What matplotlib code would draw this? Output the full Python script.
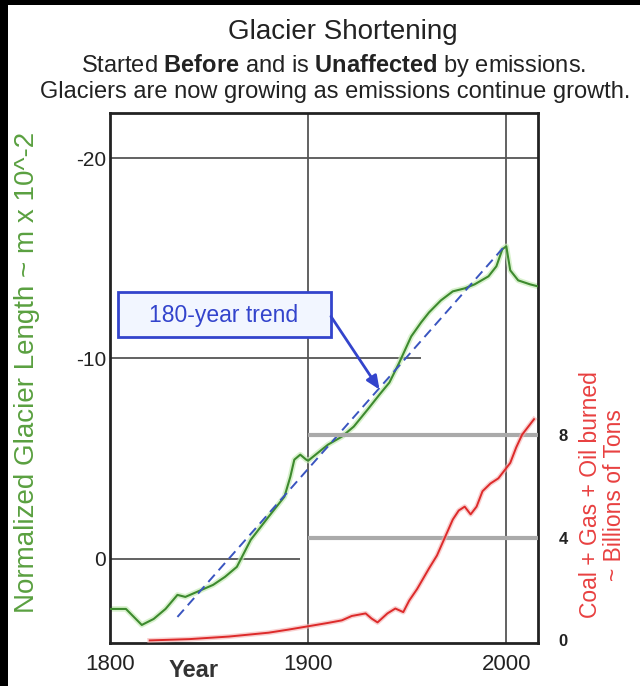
import matplotlib
matplotlib.use("Agg")
import matplotlib.pyplot as plt
from matplotlib.patches import Rectangle
import numpy as np

plt.rcParams['font.family'] = ['Liberation Sans', 'DejaVu Sans']
plt.rcParams['mathtext.fontset'] = 'custom'
plt.rcParams['mathtext.rm'] = 'Liberation Sans'
plt.rcParams['mathtext.bf'] = 'Liberation Sans:bold'

# glacier length (left axis, inverted)
glacier_years = [1800, 1808, 1812, 1816, 1822, 1828, 1834, 1838, 1845, 1852, 1858, 1864,
                 1871, 1880, 1888, 1891, 1893, 1896, 1899, 1900, 1905, 1910, 1917, 1923,
                 1930, 1936, 1941, 1946, 1952, 1957, 1961, 1967, 1973, 1979, 1984, 1991,
                 1995, 1998, 2000, 2002, 2006, 2012, 2016]
glacier_len = [2.5, 2.5, 2.9, 3.3, 3.0, 2.5, 1.8, 1.9, 1.6, 1.3, 0.9, 0.4,
               -0.95, -2.1, -3.1, -4.1, -4.95, -5.2, -4.95, -4.9, -5.3, -5.7, -6.1, -6.6,
               -7.45, -8.2, -8.8, -9.8, -11.1, -11.8, -12.3, -12.9, -13.35, -13.5, -13.7, -14.1,
               -14.6, -15.45, -15.6, -14.4, -13.9, -13.7, -13.6]

trend_years = [1834, 2000]
trend_len = [2.9, -15.7]

# fossil fuel burned, billions of tons (right axis)
fuel_years = [1820, 1840, 1860, 1880, 1890, 1900, 1910, 1917, 1922, 1929, 1932, 1935,
              1940, 1944, 1948, 1951, 1955, 1961, 1965, 1969, 1973, 1976, 1979, 1982,
              1985, 1988, 1992, 1996, 2000, 2002, 2005, 2008, 2011, 2014]
fuel_tons = [0.0, 0.05, 0.15, 0.3, 0.42, 0.55, 0.68, 0.78, 0.95, 1.05, 0.85, 0.7,
             1.05, 1.24, 1.1, 1.55, 2.0, 2.8, 3.3, 4.0, 4.7, 5.05, 5.2, 4.9,
             5.2, 5.8, 6.1, 6.3, 6.7, 6.9, 7.5, 8.0, 8.3, 8.6]

left_ticks = [-20, -10, 0]
right_ticks = [0, 4, 8]
year_ticks = [1800, 1900, 2000]

fig = plt.figure(figsize=(6.4, 6.86), dpi=100)
ax = fig.add_axes([0.172, 0.0627, 0.6686, 0.7725])
ax2 = ax.twinx()

ax.set_xlim(1800, 2016)
ax.set_ylim(4.2, -22.25)
ax2.set_ylim(-0.1, 20.5)

# grid lines
grid_c = '#555555'
ax.axhline(-20, color=grid_c, lw=1.3, zorder=1)
ax.hlines(-10, 1800, 1957, color=grid_c, lw=1.3, zorder=1)
ax.hlines(0, 1800, 1896, color=grid_c, lw=1.3, zorder=1)
for yr in [1900, 2000]:
    ax.axvline(yr, color=grid_c, lw=1.3, zorder=1)
for v in [4, 8]:
    ax2.hlines(v, 1900, 2016, color='#aaaaaa', lw=3, zorder=1)

ax.plot(glacier_years, glacier_len, color='#c8ecb8', lw=4, alpha=0.7, zorder=2)
ax.plot(glacier_years, glacier_len, color='#3d8a2e', lw=1.5, zorder=3)
ax.plot(trend_years, trend_len, color='#3a55c0', lw=1.4, ls=(0, (5, 3)), zorder=3)
ax2.plot(fuel_years, fuel_tons, color='#f4b0b0', lw=3.5, alpha=0.6, zorder=2)
ax2.plot(fuel_years, fuel_tons, color='#dd2a2a', lw=1.4, zorder=3)

# annotation box and arrow
ax.add_patch(Rectangle((1804, -13.3), 107.5, 2.25, facecolor='#f2f6ff',
                       edgecolor='#3344cc', lw=2, zorder=4))
ax.text(1857.5, -12.15, '180-year trend', color='#3344cc', fontsize=16.5,
        ha='center', va='center', zorder=5)
ax.annotate('', xy=(1936, -8.45), xytext=(1911.5, -12.1),
            arrowprops=dict(arrowstyle='-|>,head_length=0.8,head_width=0.35',
                            color='#3344cc', lw=2, shrinkA=0, shrinkB=0), zorder=5)

# ticks
ax.set_yticks(left_ticks)
ax.set_yticklabels(['-20', '-10', '0'], fontsize=15, color='#222222')
ax.set_xticks(year_ticks)
ax.set_xticklabels(['1800', '1900', '2000'], fontsize=16, color='#222222')
ax.tick_params(axis='y', length=0, pad=3)
ax.tick_params(axis='x', length=0, pad=8)
ax2.set_yticks(right_ticks)
ax2.set_yticklabels(['0', '4', '8'], fontsize=12, color='#222222', fontweight='bold')
ax2.tick_params(axis='y', length=0, pad=15)
ax.text(1842, -0.03, 'Year', transform=ax.get_xaxis_transform(), ha='center', va='top',
        fontsize=17, fontweight='bold', color='#333333')

for side in ax.spines:
    ax.spines[side].set_linewidth(2)
    ax.spines[side].set_color('#222222')
    ax2.spines[side].set_visible(False)

ax.set_ylabel('Normalized Glacier Length ~ m x 10^-2', color='#5aa040', fontsize=20)
ax.yaxis.set_label_coords(-0.164, 0.51)
ax2.set_ylabel('Coal + Gas + Oil burned\n~ Billions of Tons', color='#e84040',
               fontsize=16.5, linespacing=1.05)
ax2.yaxis.set_label_coords(1.095, 0.28)

fig.text(0.536, 0.953, 'Glacier Shortening', ha='center', va='center', fontsize=20,
         color='#222222')
fig.text(0.522, 0.905, r'Started $\mathbf{Before}$ and is $\mathbf{Unaffected}$ by emissions.',
         ha='center', va='center', fontsize=17, color='#222222')
fig.text(0.523, 0.866, 'Glaciers are now growing as emissions continue growth.',
         ha='center', va='center', fontsize=17, color='#222222')

# black frame on left and top edges
fig.patches.append(Rectangle((0, 0), 8 / 640, 1, transform=fig.transFigure,
                             facecolor='black', edgecolor='none'))
fig.patches.append(Rectangle((0, 1 - 5 / 686), 1, 5 / 686, transform=fig.transFigure,
                             facecolor='black', edgecolor='none'))

fig.savefig('out.png', dpi=100)
